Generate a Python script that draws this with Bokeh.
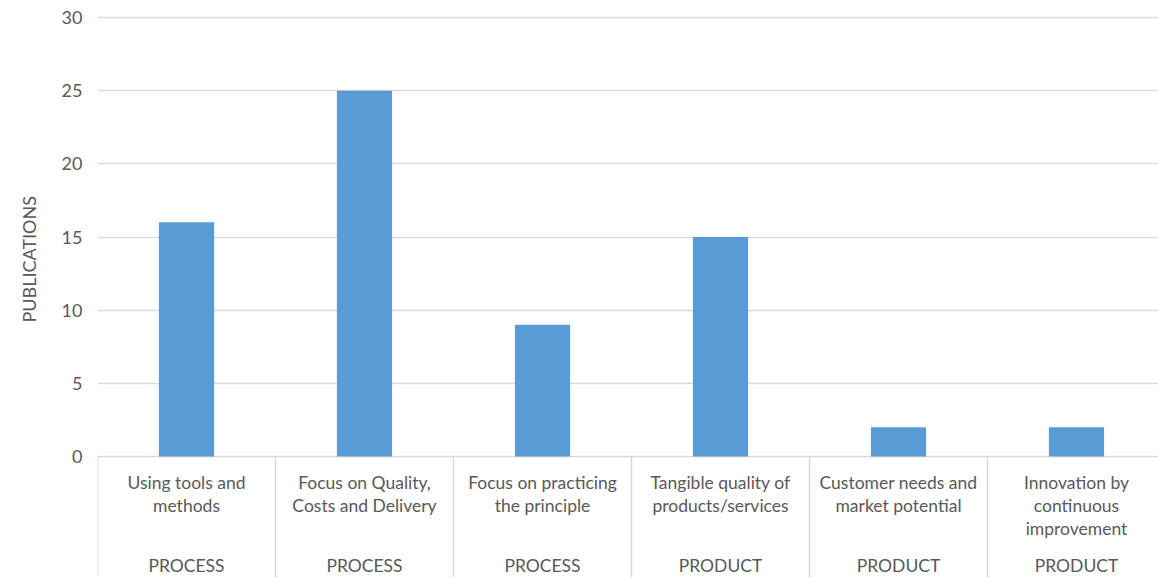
from bokeh.plotting import figure
from bokeh.models import Range1d, FixedTicker, Title
from bokeh.core.properties import value
from bokeh.embed import file_html
from bokeh.resources import INLINE

categories = ["Using tools and\nmethods", "Focus on Quality,\nCosts and Delivery",
              "Focus on practicing\nthe principle", "Tangible quality of\nproducts/services",
              "Customer needs and\nmarket potential", "Innovation by\ncontinuous\nimprovement"]
groups = ["PROCESS", "PROCESS", "PROCESS", "PRODUCT", "PRODUCT", "PRODUCT"]
publications = [16, 25, 9, 15, 2, 2]
y_ticks = [0, 5, 10, 15, 20, 25, 30]

W, H = 1158, 577
LEFT = 97
TOP_PX, ZERO_PX = 17, 456
CAT_PX = 178.0
ppu = (ZERO_PX - TOP_PX) / 30.0

FONT = "Lato"
GREY = "#595959"
LINE = "#d9d9d9"

p = figure(width=W, height=H, output_backend="svg", toolbar_location=None,
           x_range=Range1d(0, (W - LEFT) / CAT_PX),
           y_range=Range1d(-(H - ZERO_PX) / ppu, 30 + TOP_PX / ppu),
           min_border_left=LEFT, min_border_right=0, min_border_top=0, min_border_bottom=0)
p.outline_line_color = None
p.background_fill_color = "white"
p.border_fill_color = "white"

p.xaxis.visible = False
p.xgrid.visible = False
p.yaxis.ticker = FixedTicker(ticks=y_ticks)
p.ygrid.ticker = FixedTicker(ticks=y_ticks)
p.ygrid.grid_line_color = LINE
p.ygrid.grid_line_width = 1.5
p.yaxis.axis_line_color = None
p.yaxis.major_tick_line_color = None
p.yaxis.minor_tick_line_color = None
p.yaxis.major_tick_in = 0
p.yaxis.major_tick_out = 0
p.yaxis.major_label_standoff = 15
p.yaxis.major_label_text_font = FONT
p.yaxis.major_label_text_font_size = "18px"
p.yaxis.major_label_text_color = GREY

ylab = Title(text="PUBLICATIONS", align="left", vertical_align="top", offset=H - 322,
             standoff=34, text_font=FONT, text_font_size="18px", text_font_style="normal",
             text_color=GREY)
p.add_layout(ylab, "left")

n = len(categories)
xs = [i + 0.5 for i in range(n)]
p.vbar(x=xs, top=publications, bottom=0, width=0.31, fill_color="#5b9bd5", line_color=None)

# separators between categories below the axis
bottom = -(H - ZERO_PX) / ppu
p.segment(x0=list(range(n + 1)), y0=[0] * (n + 1), x1=list(range(n + 1)), y1=[bottom] * (n + 1),
          line_color=LINE, line_width=1.5)

# category labels
tx, ty, tt = [], [], []
for i, c in enumerate(categories):
    for k, line in enumerate(c.split("\n")):
        tx.append(i + 0.5)
        ty.append(-(26 + 23 * k) / ppu)
        tt.append(line)
p.text(x=tx, y=ty, text=tt, text_align="center", text_baseline="middle",
       text_font=value(FONT), text_font_size="17.5px", text_color=GREY)
p.text(x=xs, y=[-(565 - ZERO_PX) / ppu] * n, text=groups, text_align="center",
       text_baseline="middle", text_font=value(FONT), text_font_size="17.5px", text_color=GREY)

open("out.html", "w").write(file_html(p, INLINE))
